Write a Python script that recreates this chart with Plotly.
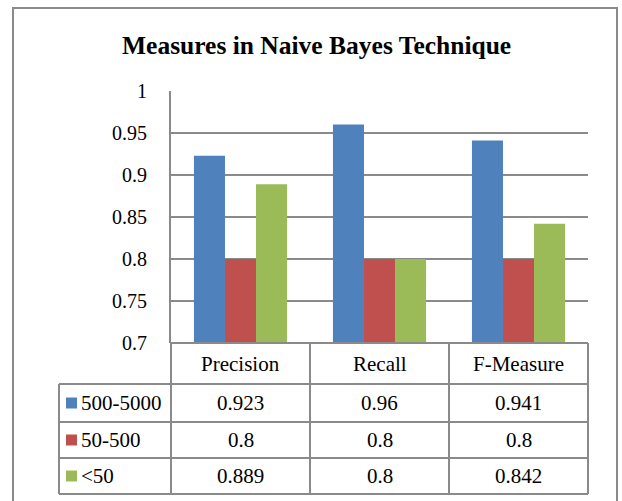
import plotly.graph_objects as go

categories = ["Precision", "Recall", "F-Measure"]
series_names = ["500-5000", "50-500", "<50"]
values_500_5000 = [0.923, 0.96, 0.941]
values_50_500 = [0.8, 0.8, 0.8]
values_lt50 = [0.889, 0.8, 0.842]
series_values = [values_500_5000, values_50_500, values_lt50]
colors = ["#4F81BD", "#C0504D", "#9BBB59"]
y_ticks = [0.7, 0.75, 0.8, 0.85, 0.9, 0.95, 1]

W, H = 622, 501
FONT = "Liberation Serif"
LINE = "#8A8A8A"

def px(x):
    return x / W

def py(y):
    return 1 - y / H

# plot area (pixels)
X0, X1 = 171, 588
Y_TOP, Y_BOT = 91, 343
# table rows (pixels)
row_edges = [343, 384, 422, 458, 494]
LEG_X0 = 59

fig = go.Figure()
for name, vals, col in zip(series_names, series_values, colors):
    fig.add_trace(go.Bar(name=name, x=categories, y=vals, hoverinfo="skip",
                         marker=dict(color=col, line=dict(width=0))))

shapes = []
annotations = []

# outer chart border
shapes.append(dict(type="rect", xref="paper", yref="paper", x0=px(13), x1=px(617), y0=py(520), y1=py(8),
                   line=dict(color=LINE, width=2), layer="below"))

ncat = len(categories)
colw = (X1 - X0) / ncat
col_edges = [X0 + i * colw for i in range(ncat + 1)]

for i, ye in enumerate(row_edges):
    xs = X0 if i == 0 else LEG_X0
    shapes.append(dict(type="line", xref="paper", yref="paper", x0=px(xs), x1=px(X1), y0=py(ye), y1=py(ye),
                       line=dict(color=LINE, width=2)))
for xe in col_edges:
    shapes.append(dict(type="line", xref="paper", yref="paper", x0=px(xe), x1=px(xe),
                       y0=py(row_edges[0]), y1=py(row_edges[-1]), line=dict(color=LINE, width=2)))
shapes.append(dict(type="line", xref="paper", yref="paper", x0=px(LEG_X0), x1=px(LEG_X0),
                   y0=py(row_edges[1]), y1=py(row_edges[-1]), line=dict(color=LINE, width=2)))

TFONT = dict(family=FONT, size=21, color="black")
for i, c in enumerate(categories):
    cx = X0 + (i + 0.5) * colw
    annotations.append(dict(x=px(cx), y=py((row_edges[0] + row_edges[1]) / 2), xref="paper", yref="paper",
                            text=c, showarrow=False, xanchor="center", yanchor="middle", font=TFONT))
for r, (name, vals, col) in enumerate(zip(series_names, series_values, colors)):
    yc = (row_edges[r + 1] + row_edges[r + 2]) / 2
    shapes.append(dict(type="rect", xref="paper", yref="paper", x0=px(66), x1=px(77),
                       y0=py(yc + 5.5), y1=py(yc - 5.5), line=dict(width=0), fillcolor=col))
    annotations.append(dict(x=px(79), y=py(yc), xref="paper", yref="paper", text=name, showarrow=False,
                            xanchor="left", yanchor="middle", font=TFONT))
    for i, v in enumerate(vals):
        cx = X0 + (i + 0.5) * colw
        annotations.append(dict(x=px(cx), y=py(yc), xref="paper", yref="paper", text=f"{v:g}", showarrow=False,
                                xanchor="center", yanchor="middle", font=TFONT))

annotations.append(dict(x=px(316), y=py(45), xref="paper", yref="paper",
                        text="<b>Measures in Naive Bayes Technique</b>", showarrow=False,
                        xanchor="center", yanchor="middle", font=dict(family=FONT, size=25.5, color="black")))

fig.update_layout(
    template="none",
    width=W, height=H, autosize=False,
    margin=dict(l=0, r=0, t=0, b=0, pad=0, autoexpand=False),
    paper_bgcolor="white", plot_bgcolor="white",
    showlegend=False, hovermode=False,
    barmode="group", bargap=0.33, bargroupgap=0,
    xaxis=dict(domain=[px(X0), px(X1)], showticklabels=False, showgrid=False, showline=False,
               ticks="", zeroline=False, automargin=False),
    yaxis=dict(domain=[py(Y_BOT), py(Y_TOP)], range=[0.7, 1], tickvals=y_ticks,
               ticktext=[f"{t:g}" for t in y_ticks], showgrid=True, gridcolor=LINE, gridwidth=2,
               showline=True, linecolor=LINE, linewidth=2, ticks="", ticklabelstandoff=18,
               zeroline=False, automargin=False, tickfont=dict(family=FONT, size=20, color="black")),
    shapes=shapes, annotations=annotations,
)

fig.write_html("out.html", config={"displayModeBar": False, "staticPlot": True},
               post_script="document.body.style.margin='0px';")
